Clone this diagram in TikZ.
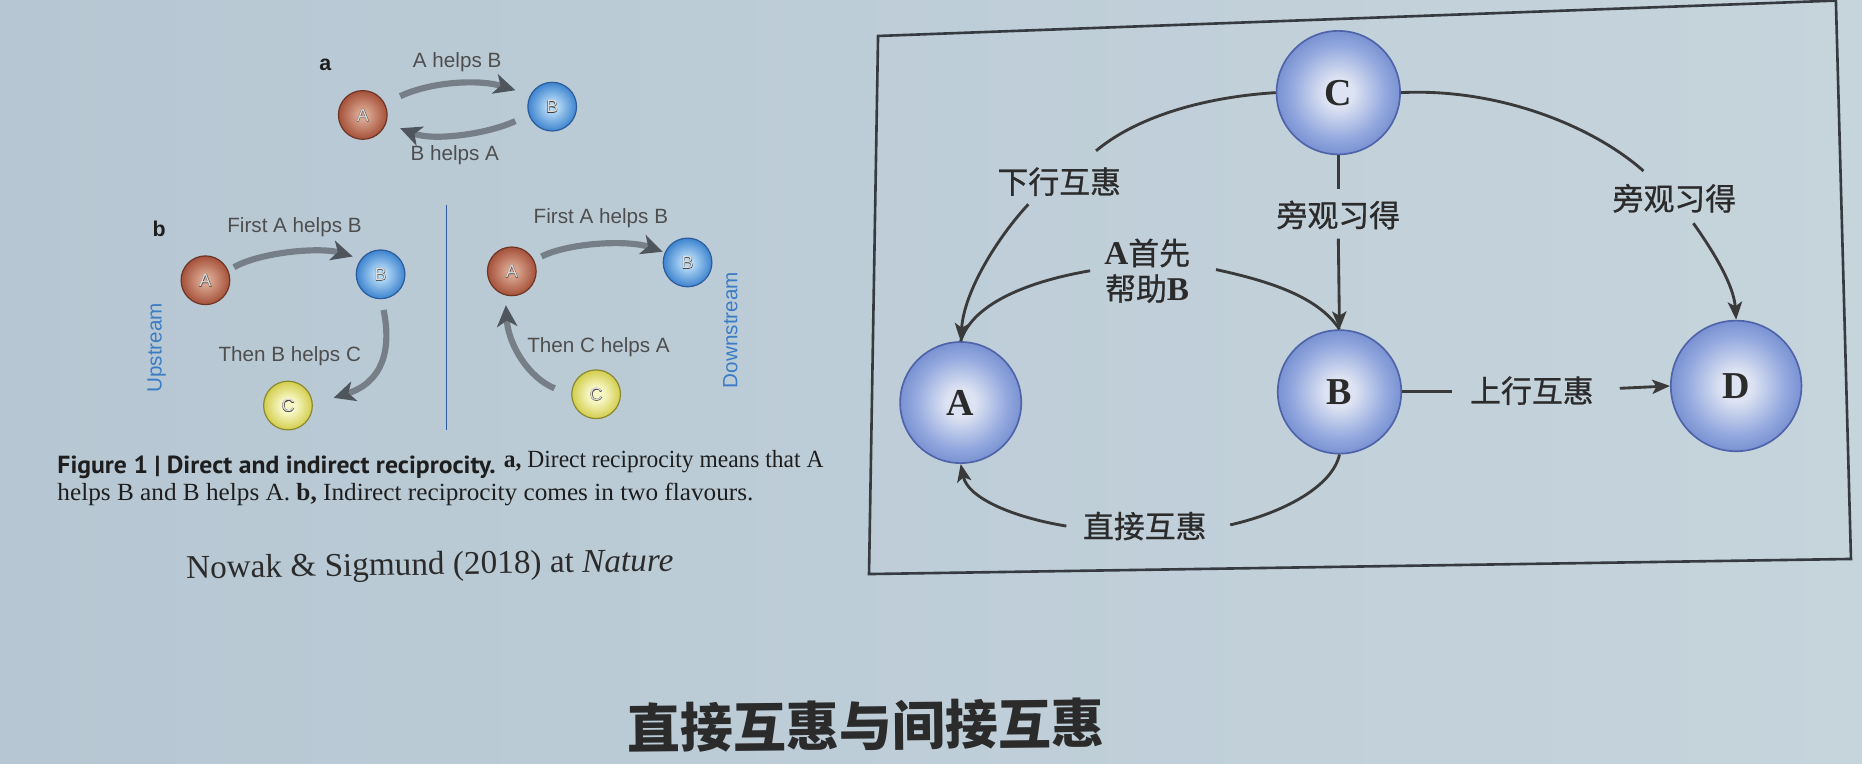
\documentclass[tikz,border=0pt]{standalone}
\usepackage{graphicx}
\usepackage{fontspec}
\setmainfont{Liberation Serif}
\newfontfamily\cjk{Noto Sans CJK SC}
\newfontfamily\cjkfb{Noto Sans CJK SC}[FakeBold=0.8]
\newfontfamily\lsans{Liberation Sans}
\newfontfamily\lsansfb{Liberation Sans}[FakeBold=2.5]
\newfontfamily\ptsans{PT Sans}
\usetikzlibrary{arrows.meta,shapes.geometric}
\definecolor{bgL}{HTML}{B6C7D3}
\definecolor{bgR}{HTML}{C6D4DC}
\definecolor{framec}{HTML}{363B41}
\definecolor{txt}{HTML}{2B2B2B}
\definecolor{lnc}{HTML}{3A3A3A}
\definecolor{rin}{HTML}{DDE3F2}
\definecolor{rmid}{HTML}{93A8DE}
\definecolor{rout}{HTML}{7A92D3}
\definecolor{rline}{HTML}{4F63A8}
\definecolor{rdin}{HTML}{D9A58F}
\definecolor{rdout}{HTML}{A5513A}
\definecolor{rdline}{HTML}{6E3524}
\definecolor{blin}{HTML}{B5DAF6}
\definecolor{blout}{HTML}{3E84CF}
\definecolor{blline}{HTML}{2A5C9C}
\definecolor{ylin}{HTML}{F7F6C4}
\definecolor{ylout}{HTML}{D2CE4C}
\definecolor{ylline}{HTML}{8B8730}
\definecolor{balltxt}{HTML}{DCDCDC}
\definecolor{balledge}{HTML}{3A3A3A}
\definecolor{gtxt}{HTML}{4E4E4E}
\definecolor{gshaft}{HTML}{767E87}
\definecolor{ghead}{HTML}{4F555C}
\definecolor{bluetxt}{HTML}{3B7CC5}
\definecolor{divc}{HTML}{2C5AA0}
\definecolor{captxt}{HTML}{1E1E1E}
\pgfdeclareradialshading{shRight}{\pgfpoint{0bp}{0bp}}{color(0bp)=(rin); color(6bp)=(rin); color(19bp)=(rmid); color(25bp)=(rout); color(50bp)=(rout)}
\pgfdeclareradialshading{shRed}{\pgfpoint{0bp}{0bp}}{color(0bp)=(rdin); color(5bp)=(rdin); color(25bp)=(rdout); color(50bp)=(rdout)}
\pgfdeclareradialshading{shBlue}{\pgfpoint{0bp}{0bp}}{color(0bp)=(blin); color(5bp)=(blin); color(25bp)=(blout); color(50bp)=(blout)}
\pgfdeclareradialshading{shYel}{\pgfpoint{0bp}{0bp}}{color(0bp)=(ylin); color(8bp)=(ylin); color(25bp)=(ylout); color(50bp)=(ylout)}
\newcommand\latb{\normalfont\bfseries\fontsize{14}{15}\selectfont}
\newcommand\balllet[1]{\makebox[0pt]{\textcolor{balledge}{\lsansfb #1}}\makebox[0pt]{\textcolor{balltxt}{\lsans #1}}}
\begin{document}
\begin{tikzpicture}[x=0.5pt,y=-0.5pt,
  rnode/.style={circle, draw=rline, line width=0.7pt, shading=shRight, inner sep=0pt, text=txt, font=\bfseries\fontsize{16}{16}\selectfont},
  lab/.style={inner sep=0pt, text=txt, font=\cjkfb\fontsize{13}{15}\selectfont},
  conn/.style={draw=lnc, line width=1.2pt},
  arr/.style={conn, -{Stealth[length=7.5pt,width=6pt,inset=1.8pt]}},
  ball/.style={circle, inner sep=0pt, minimum size=20.5pt, line width=0.5pt, font=\fontsize{7.5}{7.5}\selectfont},
  redb/.style={ball, draw=rdline, shading=shRed},
  blueb/.style={ball, draw=blline, shading=shBlue},
  yelb/.style={ball, draw=ylline, shading=shYel},
  glab/.style={inner sep=0pt, text=gtxt, font=\lsans\fontsize{8.7}{8.7}\selectfont},
  garrow/.style={draw=gshaft, line width=2.6pt, -{Stealth[length=9pt,width=8.5pt,inset=2.5pt,color=ghead]}},
  sidelab/.style={inner sep=0pt, text=bluetxt, rotate=90, font=\lsans\fontsize{8.7}{8.7}\selectfont},
  panlab/.style={inner sep=0pt, text=captxt, font=\lsans\bfseries\fontsize{9}{9}\selectfont},
  capline/.style={anchor=base west, inner sep=0pt, text=captxt},
]
\useasboundingbox (0,0) rectangle (1568,643);
\clip (0,0) rectangle (1568,643);
\fill[left color=bgL, right color=bgR] (0,0) rectangle (1568,643);

% ---------- right frame ----------
\draw[framec, line width=1.1pt] (739.4,30.3) -- (1546,0.5) -- (1558.7,470.7) -- (731.8,483.4) -- cycle;

% ---------- right nodes ----------
\node[rnode, minimum size=52pt] (C) at (1127,78) {C};
\node[rnode, minimum size=51pt] (A) at (809,339) {A};
\node[rnode, minimum size=52pt] (B) at (1128,330) {B};
\node[rnode, minimum size=55pt] (D) at (1462,325) {D};

% ---------- right labels ----------
\node[lab] (L1) at (892,153) {下行互惠};
\node[lab, align=center] (L2) at (966,228) {{\latb A}首先\\帮助{\latb B}};
\node[lab] (L3) at (1127,181) {旁观习得};
\node[lab] (L4) at (1410,167) {旁观习得};
\node[lab] (L5) at (1290,329) {上行互惠};
\node[lab] (L6) at (964,443) {直接互惠};

\coordinate (g1) at (923,127);
\coordinate (g2) at (866,172);
\coordinate (g3) at (918,228);
\coordinate (g4) at (1024,227);
\coordinate (g5) at (1127,159);
\coordinate (g6) at (1127,201);
\coordinate (g7) at (1384,144);
\coordinate (g8) at (1426,188);
\coordinate (g9) at (1223,330);
\coordinate (g10) at (1364,327);
\coordinate (g11) at (1036,442);
\coordinate (g12) at (898,443);

% C -> A (downstream)
\draw[conn] (C.west) .. controls (1010,82) and (955,100) .. (g1);
\draw[arr] (g2) .. controls (840,200) and (812,245) .. (A.north);
% A first helps B
\draw[conn] (g3) .. controls (860,238) and (818,258) .. (A.north);
\draw[conn] (g4) .. controls (1070,237) and (1110,250) .. (B.north);
% C -> B
\draw[conn] (C.south) -- (g5);
\draw[arr] (g6) -- (B.north);
% C -> D
\draw[conn] (C.east) .. controls (1260,74) and (1340,105) .. (g7);
\draw[arr] (g8) .. controls (1443,212) and (1460,240) .. (D.north);
% B -> D
\draw[conn] (B.east) -- (g9);
\draw[arr] (g10) -- (D.west);
% B -> A direct
\draw[conn] (B.south) .. controls (1122,410) and (1080,432) .. (g11);
\draw[arr] (g12) .. controls (855,436) and (815,420) .. (A.south);

% ---------- left figure : panel a ----------
\node[panlab] (pa) at (274,55) {a};
\node[redb] (aA) at (305.5,96.8) {\balllet{A}};
\node[blueb] (aB) at (465,89.8) {\balllet{B}};
\node[glab] (la1) at (385,52) {A helps B};
\node[glab] (la2) at (383,131) {B helps A};
\coordinate (t1) at (337,81);
\coordinate (h1) at (434,76);
\coordinate (t2) at (434,102);
\coordinate (h2) at (337,108);
\draw[garrow] (t1) .. controls (365,68) and (405,67) .. (h1);
\draw[garrow] (t2) .. controls (410,113) and (365,119) .. (h2);

% ---------- panel b : upstream ----------
\node[panlab] (pb) at (134,193) {b};
\node[redb] (uA) at (173,236) {\balllet{A}};
\node[blueb] (uB) at (320.5,231) {\balllet{B}};
\node[yelb] (uC) at (242.5,341.5) {\balllet{C}};
\node[glab] (lu1) at (248,191) {First A helps B};
\node[glab] (lu2) at (244,300) {Then B helps C};
\node[sidelab] (up) at (132,293) {Upstream};
\coordinate (t3) at (197,225);
\coordinate (h3) at (297,216);
\coordinate (t4) at (323,261);
\coordinate (h4) at (281,335);
\draw[garrow] (t3) .. controls (220,212) and (270,208) .. (h3);
\draw[garrow] (t4) .. controls (330,295) and (322,322) .. (h4);

% divider
\coordinate (dv1) at (376,173);
\coordinate (dv2) at (376,362);
\draw[divc, line width=0.6pt] (dv1) -- (dv2);

% ---------- panel b : downstream ----------
\node[redb] (dA) at (431,228.5) {\balllet{A}};
\node[blueb] (dB) at (579,221) {\balllet{B}};
\node[yelb] (dC) at (502,332) {\balllet{C}};
\node[glab] (ld1) at (506,184) {First A helps B};
\node[glab] (ld2) at (504,292) {Then C helps A};
\node[sidelab] (down) at (615,278) {Downstream};
\coordinate (t5) at (456,216);
\coordinate (h5) at (558,212);
\coordinate (t6) at (467,327);
\coordinate (h6) at (426,257);
\draw[garrow] (t5) .. controls (480,204) and (530,202) .. (h5);
\draw[garrow] (t6) .. controls (445,318) and (428,290) .. (h6);

% ---------- caption ----------
\node[capline] (cap1a) at (48,398.5)
  {\resizebox{184.5pt}{\height}{\ptsans\bfseries\fontsize{10.4}{12}\selectfont Figure 1 | Direct and indirect reciprocity.}};
\node[capline] (cap1b) at (424,394)
  {\resizebox{134.5pt}{\height}{\fontsize{10.4}{12}\selectfont{\bfseries a,} Direct reciprocity means that A}};
\node[capline] (cap2) at (48,421.5)
  {\resizebox{293pt}{\height}{\fontsize{10.4}{12}\selectfont helps B and B helps A. {\bfseries b,} Indirect reciprocity comes in two flavours.}};
\node[anchor=base, inner sep=0pt, text=txt, rotate=0.9, font=\fontsize{14}{14}\selectfont] (cite) at (362,484)
  {Nowak \& Sigmund (2018) at \textit{Nature}};

% ---------- title ----------
\node[inner sep=0pt, text=txt, rotate=0.6, font=\cjk\bfseries\fontsize{22.3}{22.3}\selectfont] (title) at (729,611) {直接互惠与间接互惠};
\end{tikzpicture}
\end{document}
